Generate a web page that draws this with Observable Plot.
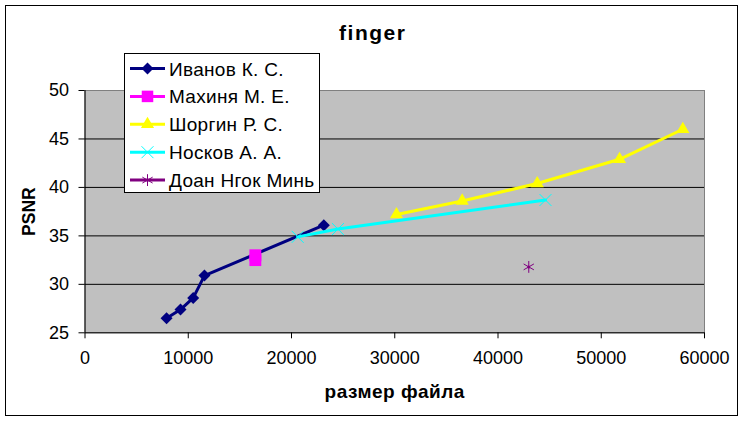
<!DOCTYPE html>
<html><head><meta charset="utf-8">
<script src="https://cdn.jsdelivr.net/npm/d3@7"></script>
<script src="https://cdn.jsdelivr.net/npm/@observablehq/plot@0.6"></script>
<style>
body{margin:0;background:#fff;}
#chart{position:relative;width:745px;height:423px;}
</style></head><body><div id="chart"></div>
<script>
const title = "finger";
const xLabel = "размер файла";
const yLabel = "PSNR";
const xTicks = [0, 10000, 20000, 30000, 40000, 50000, 60000];
const yTicks = [25, 30, 35, 40, 45, 50];

const seriesNames = ["Иванов К. С.", "Махиня М. Е.", "Шоргин Р. С.", "Носков А. А.", "Доан Нгок Минь"];
const seriesColors = ["#000080", "#ff00ff", "#ffff00", "#00ffff", "#800080"];

const ivanovX = [7900, 9250, 10480, 11570, 23130];
const ivanovY = [26.5, 27.4, 28.6, 30.9, 36.1];
const makhinyaX = [16500, 16500];
const makhinyaY = [33.0, 32.5];
const shorginX = [30170, 36530, 43800, 51770, 57900];
const shorginY = [37.2, 38.6, 40.4, 42.9, 46.0];
const noskovX = [20600, 24500, 44600];
const noskovY = [34.9, 35.7, 38.7];
const doanX = [42980];
const doanY = [31.8];

const rows = (xs, ys) => xs.map((x, i) => ({x, y: ys[i]}));
const ivanov = rows(ivanovX, ivanovY);
const makhinya = rows(makhinyaX, makhinyaY);
const shorgin = rows(shorginX, shorginY);
const noskov = rows(noskovX, noskovY);
const doan = rows(doanX, doanY);

const symbols = [
  {symbol: "diamond2", r: 5.4, filled: true},
  {symbol: "square", r: 6.7, filled: true},
  {symbol: "triangle", r: 4.9, filled: true},
  {symbol: "times", r: 5.5, filled: false},
  {symbol: "asterisk", r: 5.6, filled: false}
];
const seriesData = [ivanov, makhinya, shorgin, noskov, doan];
const FONT = "Arial, 'Liberation Sans', sans-serif";

const marks = [
  Plot.frame({fill: "#c0c0c0", stroke: "#808080"}),
  Plot.ruleY(yTicks.slice(1, -1), {stroke: "#000"}),
  Plot.ruleY([25], {stroke: "#000"}),
  Plot.ruleX([0], {stroke: "#000"}),
  Plot.axisX({ticks: xTicks, tickSize: 6, tickPadding: 12, tickFormat: d => String(d), fontSize: 18, label: null}),
  Plot.axisY({ticks: yTicks, tickSize: 6, tickPadding: 10, fontSize: 18, label: null})
];
seriesData.forEach((d, i) => {
  marks.push(Plot.line(d, {x: "x", y: "y", stroke: seriesColors[i], strokeWidth: 3}));
  const s = symbols[i];
  marks.push(Plot.dot(d, {x: "x", y: "y", symbol: () => s.symbol, r: s.r,
    fill: s.filled ? seriesColors[i] : "none",
    stroke: s.filled ? "none" : seriesColors[i], strokeWidth: 1}));
});
marks.push(
  Plot.text([title], {text: d => d, frameAnchor: "top", dx: -22, dy: -51, lineAnchor: "bottom", textAnchor: "middle", fontSize: 21, fontWeight: "bold", className: "ttl"}),
  Plot.text([xLabel], {text: d => d, frameAnchor: "bottom", dy: 65, lineAnchor: "bottom", textAnchor: "middle", fontSize: 19, fontWeight: "bold", className: "xl"}),
  Plot.text([yLabel], {text: d => d, frameAnchor: "left", dx: -56, rotate: -90, textAnchor: "middle", fontSize: 17.5, fontWeight: "bold"})
);

const plot = Plot.plot({
  width: 745, height: 423,
  marginLeft: 84.5, marginRight: 41, marginTop: 90, marginBottom: 90.7,
  style: {fontFamily: FONT, fontSize: "18px", color: "#000", background: "transparent"},
  x: {domain: [0, 60000]},
  y: {domain: [25, 50]},
  marks
});
document.getElementById("chart").appendChild(plot);

const svg = d3.select(plot);
svg.selectAll(".ttl text").style("letter-spacing", "1.5px");
svg.selectAll(".xl text").style("letter-spacing", "0.5px");
svg.insert("rect", ":first-child").attr("x", 5.5).attr("y", 5.5).attr("width", 732).attr("height", 410)
  .attr("fill", "#fff").attr("stroke", "#000");
const lg = svg.append("g").attr("text-anchor", "start");
lg.append("rect").attr("x", 124.5).attr("y", 53.5).attr("width", 195).attr("height", 139)
  .attr("fill", "#fff").attr("stroke", "#000");
const symMap = {diamond2: d3.symbolDiamond2, square: d3.symbolSquare, triangle: d3.symbolTriangle, times: d3.symbolTimes, asterisk: d3.symbolAsterisk};
seriesNames.forEach((name, i) => {
  const cy = 68.5 + i * 27.9;
  lg.append("line").attr("x1", 130).attr("x2", 165).attr("y1", cy).attr("y2", cy)
    .attr("stroke", seriesColors[i]).attr("stroke-width", 3);
  const s = symbols[i];
  const rr = s.symbol === "square" ? 6.5 : s.r;
  lg.append("path").attr("transform", `translate(147.5,${cy})`)
    .attr("d", d3.symbol(symMap[s.symbol], Math.PI * rr * rr)())
    .attr("fill", s.filled ? seriesColors[i] : "none")
    .attr("stroke", s.filled ? "none" : seriesColors[i]).attr("stroke-width", 1);
  lg.append("text").attr("x", 169).attr("y", cy + 7).attr("font-size", 19)
    .attr("text-anchor", "start").style("letter-spacing", "0.3px")
    .attr("font-family", FONT).text(name);
});
</script></body></html>
